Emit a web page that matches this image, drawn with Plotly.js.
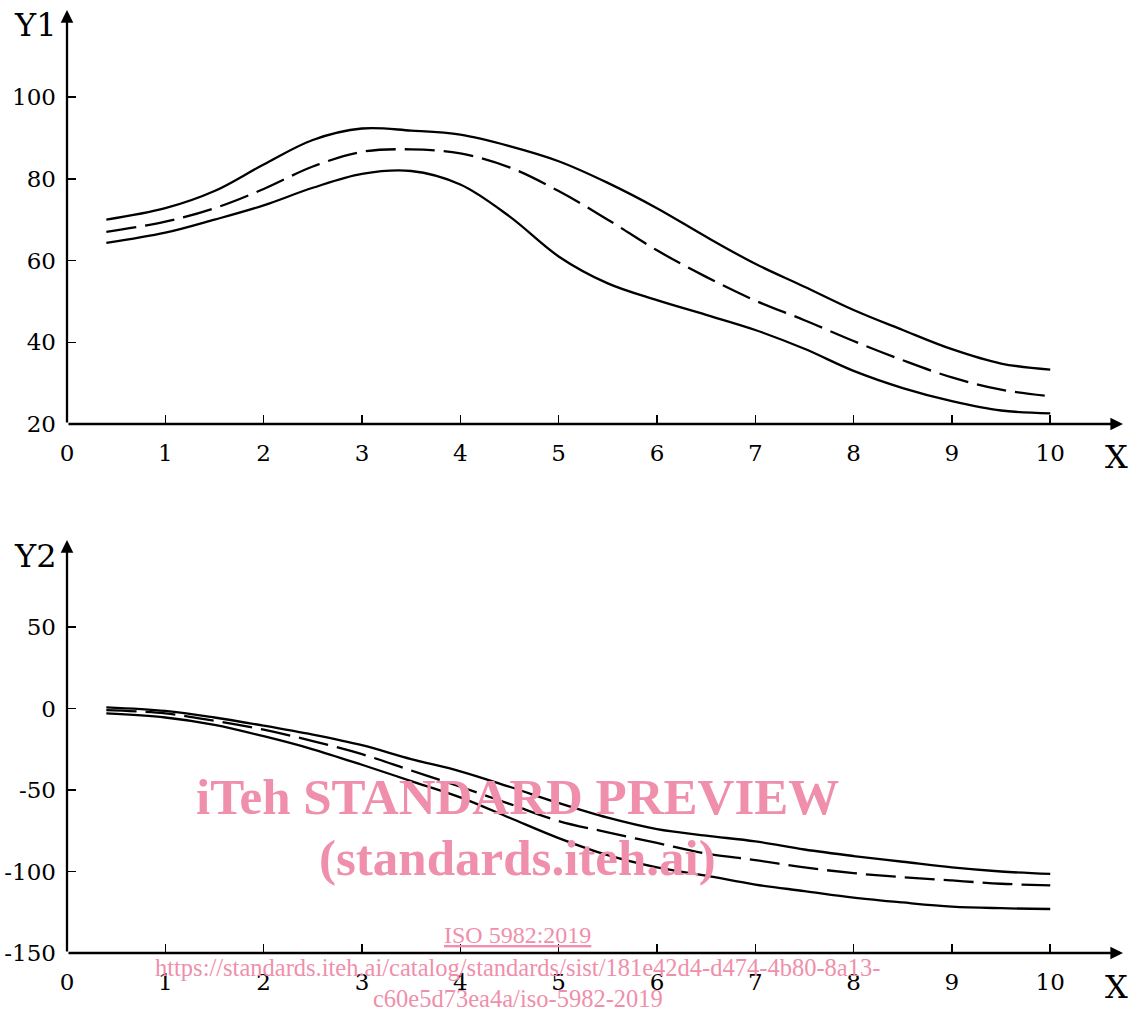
<!DOCTYPE html>
<html>
<head>
<meta charset="utf-8">
<script src="https://cdn.plot.ly/plotly-3.0.1.min.js"></script>
<style>html,body{margin:0;padding:0;background:#fff;}#chart{width:1138px;height:1012px;}</style>
</head>
<body>
<div id="chart"></div>
<script>
// ---- data ----
const xValues = [0.4, 1, 1.5, 2, 2.5, 3, 3.5, 4, 4.5, 5, 5.5, 6, 6.5, 7, 7.5, 8, 8.5, 9, 9.5, 10];

const y1Upper  = [70, 72.8, 77, 83.5, 89.5, 92.3, 91.8, 90.8, 88, 84.3, 79, 72.8, 65.8, 59.2, 53.6, 47.9, 43, 38.3, 34.8, 33.3];
const y1Middle = [67, 69.5, 72.8, 77.5, 83, 86.6, 87.2, 86.2, 82.8, 77, 70, 62.5, 56, 50.2, 45.4, 40.3, 35.6, 31.4, 28.4, 26.8];
const y1Lower  = [64.3, 66.8, 70, 73.5, 77.8, 81.2, 81.9, 78.6, 70.8, 61, 54.4, 50.3, 46.7, 43, 38.4, 33, 28.8, 25.6, 23.3, 22.6];

const y2Upper  = [0.7, -1.5, -5.5, -10.5, -16, -22.5, -31, -38.5, -48, -58, -67, -74, -78, -81.5, -86.5, -90.5, -94, -97.5, -100, -101.5];
const y2Middle = [-1, -3, -7.5, -13, -20, -28, -38, -48, -58.5, -69, -76, -82.5, -89, -93, -97.5, -101, -103.5, -105.5, -107.5, -108.5];
const y2Lower  = [-3, -5.5, -10, -17, -25, -34.5, -44.5, -54.5, -67, -79.5, -90, -97.5, -102.5, -108, -112, -116, -119, -121.5, -122.5, -123];

const xTicks = [0, 1, 2, 3, 4, 5, 6, 7, 8, 9, 10];
const y1Ticks = [20, 40, 60, 80, 100];
const y2Ticks = [-150, -100, -50, 0, 50];
const y2TickText = ['-150', '-100', '-50', '0', '50'];

// ---- styles ----
const FONT = 'DejaVu Serif, serif';
const lineSolid = {color: '#000', width: 2.3, shape: 'spline', smoothing: 1};
const lineDash = {color: '#000', width: 2.3, shape: 'spline', smoothing: 1, dash: '30px,9px'};

function tr(y, xa, ya, line) {
  return {x: xValues, y: y, xaxis: xa, yaxis: ya, mode: 'lines', line: line, hoverinfo: 'skip', showlegend: false};
}

const data = [
  tr(y1Upper, 'x', 'y', lineSolid),
  tr(y1Middle, 'x', 'y', lineDash),
  tr(y1Lower, 'x', 'y', lineSolid),
  tr(y2Upper, 'x2', 'y2', lineSolid),
  tr(y2Middle, 'x2', 'y2', lineDash),
  tr(y2Lower, 'x2', 'y2', lineSolid)
];

const X_MAX = 10.74;
const Y1_RANGE = [20, 121.3];
const Y2_RANGE = [-150, 103.4];

const axBase = {
  showgrid: false, zeroline: false, showline: false,
  ticks: 'inside', ticklen: 9, tickwidth: 1.5, tickcolor: '#000',
  tickfont: {family: FONT, size: 23, color: '#000'}
};

function arrow(xa, ya, x, y, ax, ay) {
  return {xref: xa, yref: ya, axref: xa, ayref: ya, x: x, y: y, ax: ax, ay: ay,
    text: '', showarrow: true, arrowhead: 2, arrowsize: 1.1, arrowwidth: 2.3, arrowcolor: '#000', standoff: 0};
}
function label(text, x, y, size, extra) {
  return Object.assign({xref: 'paper', yref: 'paper', x: x, y: y, text: text, showarrow: false,
    xanchor: 'center', yanchor: 'middle', font: {family: FONT, size: size, color: '#000'}}, extra || {});
}
const PINK = '#ef8fab';
const WM = 'Liberation Serif, Times New Roman, serif';

const layout = {
  width: 1138, height: 1012,
  margin: {l: 67, r: 15, t: 0, b: 0},
  paper_bgcolor: '#fff', plot_bgcolor: '#fff',
  showlegend: false,
  xaxis: Object.assign({}, axBase, {anchor: 'y', domain: [0, 1], range: [0, X_MAX], tickvals: xTicks, ticklabelstandoff: 13}),
  yaxis: Object.assign({}, axBase, {anchor: 'x', domain: [0.58103, 0.99012], range: Y1_RANGE, tickvals: y1Ticks, ticklabelstandoff: 10}),
  xaxis2: Object.assign({}, axBase, {anchor: 'y2', domain: [0, 1], range: [0, X_MAX], tickvals: xTicks, ticklabelstandoff: 13}),
  yaxis2: Object.assign({}, axBase, {anchor: 'x2', domain: [0.0583, 0.4664], range: Y2_RANGE, tickvals: y2Ticks, ticktext: y2TickText, ticklabelstandoff: 10}),
  annotations: [
    arrow('x', 'y', X_MAX, 20, 0, 20),
    arrow('x', 'y', 0, Y1_RANGE[1], 0, 20),
    arrow('x2', 'y2', X_MAX, -150, 0, -150),
    arrow('x2', 'y2', 0, Y2_RANGE[1], 0, -150),
    label('Y1', -0.0303, 0.9753, 32),
    label('Y2', -0.0303, 0.4506, 32),
    label('X', 0.9943, 0.5484, 32),
    label('X', 0.9943, 0.0247, 32),
    label('<b>iTeh STANDARD PREVIEW</b>', 0.427, 0.2125, 51, {font: {family: WM, size: 51, color: PINK}}),
    label('<b>(standards.iteh.ai)</b>', 0.427, 0.1522, 51, {font: {family: WM, size: 51, color: PINK}}),
    label('<u>ISO 5982:2019</u>', 0.427, 0.0761, 24, {font: {family: WM, size: 24, color: PINK}}),
    label('https://standards.iteh.ai/catalog/standards/sist/181e42d4-d474-4b80-8a13-', 0.427, 0.0435, 24.5, {font: {family: WM, size: 24.5, color: PINK}}),
    label('c60e5d73ea4a/iso-5982-2019', 0.427, 0.0138, 24.5, {font: {family: WM, size: 24.5, color: PINK}})
  ]
};

Plotly.newPlot('chart', data, layout, {staticPlot: true, displayModeBar: false});
</script>
</body>
</html>
